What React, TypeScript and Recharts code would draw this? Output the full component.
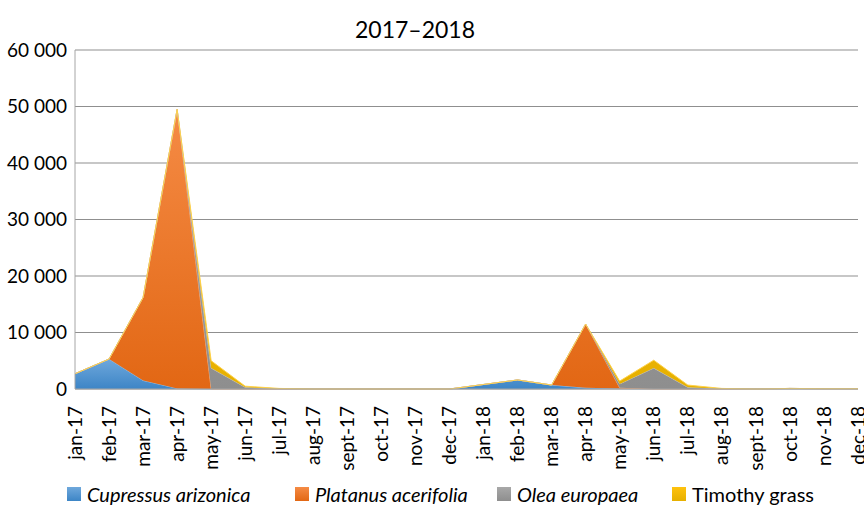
import React from "react";
import { Area, AreaChart, CartesianGrid, Legend, XAxis, YAxis } from "recharts";

const months = [
  "jan-17", "feb-17", "mar-17", "apr-17", "may-17", "jun-17", "jul-17", "aug-17",
  "sept-17", "oct-17", "nov-17", "dec-17", "jan-18", "feb-18", "mar-18", "apr-18",
  "may-18", "jun-18", "jul-18", "aug-18", "sept-18", "oct-18", "nov-18", "dec-18",
];
const cupressus = [2700, 5300, 1500, 100, 0, 0, 0, 0, 0, 0, 0, 0, 800, 1600, 700, 200, 100, 0, 0, 0, 0, 100, 50, 50];
const platanus = [0, 0, 14700, 49400, 0, 0, 0, 0, 0, 0, 0, 0, 0, 0, 0, 11300, 100, 0, 0, 0, 0, 0, 0, 0];
const olea = [0, 0, 0, 0, 3700, 300, 50, 0, 0, 0, 0, 0, 0, 0, 0, 0, 700, 3700, 300, 50, 0, 0, 0, 0];
const timothy = [0, 0, 0, 0, 1300, 200, 50, 0, 0, 0, 0, 0, 0, 0, 0, 0, 500, 1400, 400, 50, 0, 0, 0, 0];
const yTicks = [0, 10000, 20000, 30000, 40000, 50000, 60000];

const series = [
  { key: "cupressus", name: "Cupressus arizonica", italic: true, top: "#6fa8dc", bottom: "#3d85c6", stroke: "#8bbbe6" },
  { key: "platanus", name: "Platanus acerifolia", italic: true, top: "#f58b45", bottom: "#e26714", stroke: "#f7a46b" },
  { key: "olea", name: "Olea europaea", italic: true, top: "#a8a8a8", bottom: "#8e8e8e", stroke: "#c0c0c0" },
  { key: "timothy", name: "Timothy grass", italic: false, top: "#ffc20e", bottom: "#e6b000", stroke: "#ffd24a" },
];

const data = months.map((m, i) => ({
  month: m,
  cupressus: cupressus[i],
  platanus: platanus[i],
  olea: olea[i],
  timothy: timothy[i],
}));

const FONT = "Lato, 'Open Sans', sans-serif";

const fmt = (v: number) => v.toLocaleString("en-US").replace(/,/g, " ");

function MonthTick({ x, y, payload }: any) {
  return (
    <text
      transform={`translate(${x},${y + 9}) rotate(-90)`}
      textAnchor="end"
      dy="0.35em"
      fontSize={19}
      fontFamily={FONT}
      fill="#000"
    >
      {payload.value}
    </text>
  );
}

function LegendBox() {
  const xs = [67, 295, 497, 672];
  return (
    <div style={{ position: "relative", height: 30, fontFamily: FONT, fontSize: 20 }}>
      {series.map((s, i) => (
        <div key={s.key} style={{ position: "absolute", left: xs[i], top: 6, display: "flex", alignItems: "center" }}>
          <span
            style={{
              width: 14,
              height: 14,
              background: `linear-gradient(${s.top}, ${s.bottom})`,
              marginRight: 6,
              display: "inline-block",
            }}
          />
          <span style={{ fontStyle: s.italic ? "italic" : "normal", color: "#000" }}>{s.name}</span>
        </div>
      ))}
    </div>
  );
}

export default function App() {
  return (
    <div style={{ position: "absolute", left: 0, top: 0, width: 864, height: 506, background: "#fff" }}>
      <div
        style={{
          position: "absolute",
          left: 0,
          width: 830,
          top: 15,
          textAlign: "center",
          fontFamily: FONT,
          fontSize: 23,
          color: "#000",
        }}
      >
        2017–2018
      </div>
      <AreaChart width={864} height={506} data={data} margin={{ top: 50, right: 6, left: 0, bottom: 0 }}>
        <defs>
          {series.map((s) => (
            <linearGradient key={s.key} id={`g-${s.key}`} x1="0" y1="0" x2="0" y2="1">
              <stop offset="0%" stopColor={s.top} />
              <stop offset="100%" stopColor={s.bottom} />
            </linearGradient>
          ))}
        </defs>
        <CartesianGrid stroke="#8f8f8f" vertical={false} />
        <XAxis
          dataKey="month"
          interval={0}
          tick={<MonthTick />}
          tickLine={false}
          axisLine={{ stroke: "#a6a6a6" }}
          height={87}
        />
        <YAxis
          domain={[0, 60000]}
          ticks={yTicks}
          tickFormatter={fmt}
          tick={{ fontSize: 19, fill: "#000", fontFamily: FONT }}
          tickLine={false}
          axisLine={{ stroke: "#a6a6a6" }}
          width={75}
        />
        {series.map((s) => (
          <Area
            key={s.key}
            type="linear"
            dataKey={s.key}
            name={s.name}
            stackId="1"
            stroke={s.stroke}
            strokeWidth={1}
            fill={`url(#g-${s.key})`}
            fillOpacity={1}
            isAnimationActive={false}
          />
        ))}
        <Legend verticalAlign="bottom" height={30} content={() => <LegendBox />} />
      </AreaChart>
    </div>
  );
}
